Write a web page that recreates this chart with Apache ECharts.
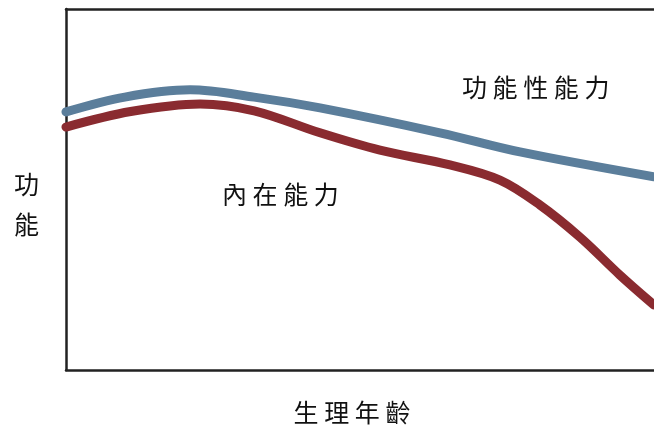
<!DOCTYPE html>
<html>
<head>
<meta charset="utf-8">
<script src="https://cdn.jsdelivr.net/npm/echarts@6/dist/echarts.min.js"></script>
<style>html,body{margin:0;padding:0;background:#fff;}#c{width:654px;height:428px;}</style>
</head>
<body>
<div id="c"></div>
<script>
var functionalAbility = [[0,71.5],[10,75.6],[21.1,77.6],[32,75.6],[43.2,72.6],[63.6,65.7],[77.2,60.4],[100,53.5]];
var intrinsicCapacity = [[0,67.3],[11,71.6],[22.8,73.7],[32,71.8],[43.2,65.7],[53.4,60.9],[65.3,56.8],[73.8,52.6],[80.6,45.7],[87.4,36.8],[94.2,26.3],[100,18.0]];
var xName = '生 理 年 齡';
var yNameChars = ['功', '能'];
var label1 = '功 能 性 能 力';
var label2 = '內 在 能 力';

var font = '"Noto Sans CJK TC","Noto Sans CJK SC",sans-serif';
var chart = echarts.init(document.getElementById('c'));
chart.setOption({
  animation: false,
  grid: {left: 66, right: 0, top: 9, bottom: 58, outerBoundsMode: 'none', containLabel: false},
  xAxis: [{
    type: 'value', min: 0, max: 100, position: 'bottom',
    axisLine: {show: true, onZero: false, lineStyle: {color: '#222', width: 2.5}},
    axisTick: {show: false}, axisLabel: {show: false}, splitLine: {show: false},
    name: '{a|' + xName + '}{s|}', nameLocation: 'middle', nameGap: 30,
    nameTextStyle: {fontSize: 25, color: '#111', fontFamily: font,
      rich: {a: {fontSize: 25, color: '#111', fontFamily: font}, s: {width: 16}}}
  },{
    type: 'value', min: 0, max: 100, position: 'top',
    axisLine: {show: true, onZero: false, lineStyle: {color: '#222', width: 2.5}},
    axisTick: {show: false}, axisLabel: {show: false}, splitLine: {show: false}
  }],
  yAxis: {
    type: 'value', min: 0, max: 100,
    axisLine: {show: true, onZero: false, lineStyle: {color: '#222', width: 2.5}},
    axisTick: {show: false}, axisLabel: {show: false}, splitLine: {show: false},
    name: '{s| }\n' + yNameChars.map(function (c) { return '{a|' + c + '}'; }).join('\n'),
    nameLocation: 'middle', nameRotate: 0, nameGap: 27,
    nameTextStyle: {fontSize: 25, color: '#111', fontFamily: font,
      rich: {s: {lineHeight: 30, fontSize: 10}, a: {lineHeight: 40, fontSize: 25, color: '#111', fontFamily: font}}}
  },
  series: [{
    type: 'line', data: functionalAbility, smooth: 0.35, symbol: 'none', clip: false,
    lineStyle: {color: '#5b7e9b', width: 9, cap: 'round'}
  },{
    type: 'line', data: intrinsicCapacity, smooth: 0.35, symbol: 'none', clip: false,
    lineStyle: {color: '#8a2b30', width: 9, cap: 'round'}
  }],
  graphic: [
    {type: 'text', left: 462, top: 75, style: {text: label1, font: '25px ' + font, fill: '#111'}},
    {type: 'text', left: 222, top: 182, style: {text: label2, font: '25px ' + font, fill: '#111'}}
  ]
});
</script>
</body>
</html>
